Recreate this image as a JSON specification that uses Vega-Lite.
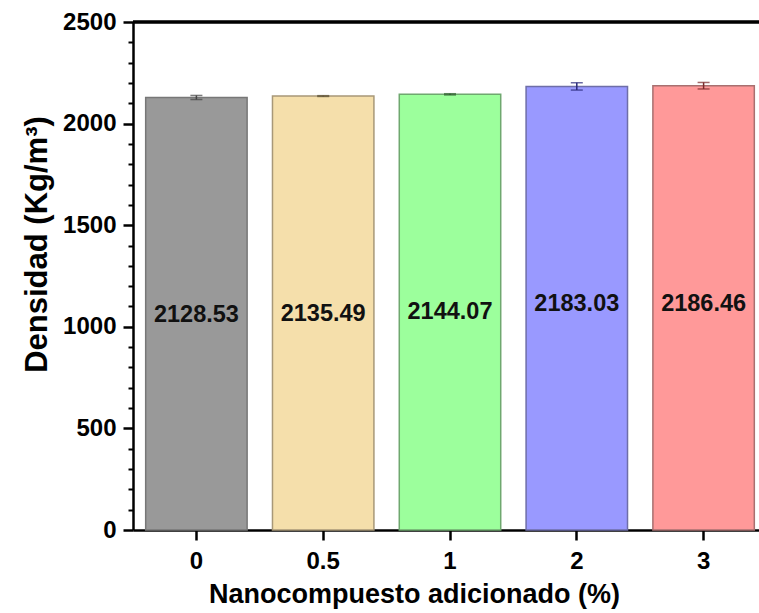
{
  "$schema": "https://vega.github.io/schema/vega-lite/v6.json",
  "width": 626,
  "height": 508,
  "autosize": {"type": "none"},
  "padding": {"left": 133, "top": 22, "right": 0, "bottom": 83},
  "config": {"view": {"stroke": null}, "font": "Liberation Sans"},
  "data": {
    "values": [
      {"nano": "0", "densidad": 2128.53, "error": 10},
      {"nano": "0.5", "densidad": 2135.49, "error": 2},
      {"nano": "1", "densidad": 2144.07, "error": 3},
      {"nano": "2", "densidad": 2183.03, "error": 18},
      {"nano": "3", "densidad": 2186.46, "error": 16}
    ]
  },
  "resolve": {"axis": {"y": "independent"}},
  "layer": [
    {
      "mark": {"type": "bar", "strokeWidth": 1.5},
      "encoding": {
        "x": {
          "field": "nano",
          "type": "ordinal",
          "sort": null,
          "scale": {"range": [0, 634], "paddingInner": 0.2, "paddingOuter": 0.1},
          "axis": {
            "labelAngle": 0,
            "title": "Nanocompuesto adicionado (%)",
            "domainColor": "black",
            "domainWidth": 2.5,
            "tickColor": "black",
            "tickWidth": 2.5,
            "tickSize": 10,
            "labelFont": "Liberation Sans",
            "labelFontWeight": "bold",
            "labelFontSize": 24,
            "labelColor": "black",
            "labelPadding": 9,
            "titleFont": "Liberation Sans",
            "titleFontWeight": "bold",
            "titleFontSize": 27,
            "titleColor": "black",
            "titleBaseline": "alphabetic",
            "titleY": 72,
            "titleX": 281,
            "titleAlign": "center"
          }
        },
        "y": {
          "field": "densidad",
          "type": "quantitative",
          "scale": {"domain": [0, 2500], "nice": false},
          "axis": {
            "orient": "left",
            "values": [0, 500, 1000, 1500, 2000, 2500],
            "format": "d",
            "title": "Densidad (Kg/m³)",
            "grid": false,
            "domainColor": "black",
            "domainWidth": 2.5,
            "tickColor": "black",
            "tickWidth": 2.5,
            "tickSize": 10,
            "labelFont": "Liberation Sans",
            "labelFontWeight": "bold",
            "labelFontSize": 24,
            "labelColor": "black",
            "labelPadding": 7,
            "titleFont": "Liberation Sans",
            "titleFontWeight": "bold",
            "titleFontSize": 31,
            "titleColor": "black",
            "titleX": -96,
            "titleY": 222,
            "titleAlign": "center",
            "titleBaseline": "middle"
          }
        },
        "fill": {
          "field": "nano",
          "type": "nominal",
          "scale": {"domain": ["0", "0.5", "1", "2", "3"], "range": ["#999999", "#F5DFAB", "#9CFF9C", "#9999FF", "#FF9999"]},
          "legend": null
        },
        "stroke": {
          "field": "nano",
          "type": "nominal",
          "scale": {"domain": ["0", "0.5", "1", "2", "3"], "range": ["#777777", "#A89878", "#6FA86F", "#6E6EA8", "#A87070"]},
          "legend": null
        }
      }
    },
    {
      "mark": {"type": "errorbar", "ticks": {"size": 12}, "thickness": 1.5},
      "encoding": {
        "x": {"field": "nano", "type": "ordinal", "sort": null},
        "y": {"field": "densidad", "type": "quantitative", "axis": null},
        "yError": {"field": "error"},
        "color": {
          "field": "nano",
          "type": "nominal",
          "scale": {"domain": ["0", "0.5", "1", "2", "3"], "range": ["#444444", "#5E5236", "#2F5E2F", "#2A2A7A", "#7A2A2A"]},
          "legend": null
        }
      }
    },
    {
      "mark": {"type": "text", "dy": 218, "baseline": "middle", "align": "center", "fontSize": 23.5, "fontWeight": "bold", "font": "Liberation Sans", "color": "#111111"},
      "encoding": {
        "x": {"field": "nano", "type": "ordinal", "sort": null},
        "y": {"field": "densidad", "type": "quantitative", "axis": null},
        "text": {"field": "densidad", "type": "quantitative", "format": ".2f"}
      }
    },
    {
      "mark": {"type": "rule", "strokeWidth": 2.5, "color": "black"},
      "encoding": {
        "y": {
          "datum": 2500,
          "type": "quantitative",
          "axis": {
            "orient": "left",
            "values": [100, 200, 300, 400, 600, 700, 800, 900, 1100, 1200, 1300, 1400, 1600, 1700, 1800, 1900, 2100, 2200, 2300, 2400],
            "tickSize": 5,
            "tickWidth": 2,
            "tickColor": "black",
            "labels": false,
            "domain": false,
            "grid": false,
            "title": null
          }
        }
      }
    }
  ]
}
